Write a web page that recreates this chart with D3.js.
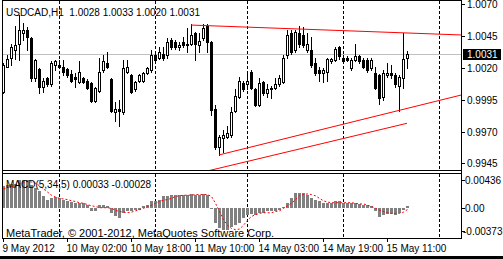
<!DOCTYPE html>
<html>
<head>
<meta charset="utf-8">
<script src="https://cdn.jsdelivr.net/npm/d3@7"></script>
<style>
    html, body {margin: 0; padding: 0; background: #fff;}
    svg {display: block; font-family: "Liberation Sans", Arial, sans-serif;}
</style>
</head>
<body>
<div id="chart"></div>
<script>
// USDCAD H1 bars, 9 May 10:00 .. 15 May 16:00
const opens = [1.0001,1.0021,1.0028,1.0034,1.0039,1.0047,1.0050,1.0043,1.0012,1.0019,
    1.0005,1.0012,1.0007,1.0022,1.0022,1.0021,1.0019,1.0015,1.0013,1.0009,
    1.0012,1.0010,1.0008,0.9994,1.0002,1.0018,1.0024,1.0011,0.9985,0.9988,
    0.9985,1.0017,1.0014,1.0003,1.0010,1.0010,1.0016,1.0018,1.0030,1.0028,
    1.0031,1.0030,1.0042,1.0040,1.0036,1.0040,1.0039,1.0039,1.0047,1.0038,
    1.0043,1.0053,1.0040,0.9988,0.9958,0.9965,0.9966,0.9967,0.9986,0.9997,
    1.0008,1.0007,1.0017,1.0003,0.9991,1.0009,1.0000,1.0004,1.0004,1.0007,
    1.0009,1.0030,1.0047,1.0034,1.0047,1.0046,1.0034,1.0034,1.0024,1.0018,
    1.0016,1.0017,1.0025,1.0026,1.0036,1.0028,1.0028,1.0020,1.0026,1.0029,
    1.0026,1.0026,1.0020,1.0016,1.0014,0.9997,1.0014,1.0016,1.0014,1.0006,
    1.0012,1.0028];
const highs = [1.0024,1.0030,1.0039,1.0053,1.0061,1.0055,1.0052,1.0044,1.0027,1.0020,
    1.0012,1.0013,1.0025,1.0026,1.0026,1.0026,1.0020,1.0018,1.0016,1.0025,
    1.0013,1.0011,1.0009,1.0005,1.0028,1.0030,1.0032,1.0012,0.9993,0.9995,
    1.0026,1.0026,1.0015,1.0010,1.0015,1.0017,1.0021,1.0034,1.0031,1.0036,
    1.0036,1.0043,1.0043,1.0042,1.0040,1.0044,1.0051,1.0054,1.0048,1.0047,
    1.0054,1.0054,1.0041,0.9991,0.9967,0.9971,0.9974,0.9989,1.0003,1.0013,
    1.0010,1.0017,1.0018,1.0004,1.0012,1.0010,1.0007,1.0006,1.0012,1.0014,
    1.0030,1.0050,1.0050,1.0050,1.0053,1.0052,1.0047,1.0044,1.0028,1.0021,
    1.0020,1.0028,1.0028,1.0036,1.0037,1.0030,1.0029,1.0028,1.0039,1.0030,
    1.0028,1.0028,1.0028,1.0021,1.0015,1.0018,1.0024,1.0022,1.0016,1.0014,
    1.0047,1.0033];
const lows = [1.0000,1.0021,1.0022,1.0027,1.0026,1.0042,1.0034,1.0010,1.0010,1.0000,
    1.0001,1.0006,1.0006,1.0018,1.0020,1.0014,1.0013,1.0009,1.0005,1.0008,
    1.0008,1.0003,0.9993,0.9993,1.0001,1.0017,1.0020,0.9985,0.9978,0.9974,
    0.9984,1.0016,1.0000,1.0002,1.0009,1.0009,1.0015,1.0017,1.0025,1.0027,
    1.0026,1.0028,1.0035,1.0035,1.0034,1.0036,1.0032,1.0038,1.0026,1.0032,
    1.0042,1.0032,0.9983,0.9956,0.9952,0.9954,0.9965,0.9966,0.9985,0.9996,
    1.0002,1.0003,1.0003,0.9990,0.9990,0.9999,0.9997,0.9996,1.0003,1.0006,
    1.0008,1.0028,1.0031,1.0032,1.0036,1.0036,1.0032,1.0021,1.0014,1.0010,
    1.0009,1.0010,1.0024,1.0025,1.0027,1.0024,1.0025,1.0018,1.0025,1.0024,
    1.0020,1.0017,1.0018,1.0003,0.9992,0.9995,1.0013,1.0012,1.0005,0.9986,
    1.0004,1.0020];
const closes = [1.0022,1.0027,1.0036,1.0038,1.0050,1.0050,1.0044,1.0012,1.0026,1.0005,
    1.0010,1.0007,1.0024,1.0025,1.0021,1.0017,1.0014,1.0010,1.0011,1.0017,
    1.0009,1.0004,0.9994,1.0004,1.0017,1.0025,1.0021,0.9986,0.9988,0.9986,
    1.0020,1.0021,1.0001,1.0009,1.0014,1.0016,1.0020,1.0030,1.0026,1.0032,
    1.0028,1.0040,1.0036,1.0036,1.0038,1.0038,1.0038,1.0046,1.0039,1.0041,
    1.0051,1.0040,0.9987,0.9958,0.9966,0.9967,0.9969,0.9985,0.9998,1.0010,
    1.0003,1.0010,1.0004,0.9991,1.0008,1.0000,1.0003,1.0003,1.0007,1.0012,
    1.0028,1.0046,1.0032,1.0048,1.0039,1.0038,1.0039,1.0022,1.0016,1.0016,
    1.0018,1.0027,1.0027,1.0035,1.0029,1.0025,1.0026,1.0026,1.0029,1.0025,
    1.0021,1.0018,1.0026,1.0004,0.9996,1.0016,1.0016,1.0014,1.0007,1.0013,
    1.0027,1.0031];

// MACD(5,34,5): main histogram and signal line
const macdMain = [0.0034,0.0036,0.0038,0.0038,0.0044,0.0044,0.0044,0.0036,0.0031,0.0026,
    0.0018,0.0012,0.0015,0.0017,0.0015,0.0013,0.0011,0.0009,0.0007,0.0007,
    0.0007,0.0004,-0.0006,-0.0006,0.0004,0.0004,0.0002,-0.0009,-0.0013,-0.0016,
    -0.0008,-0.0005,-0.0006,-0.0004,-0.0003,0.0002,0.0004,0.0010,0.0011,0.0013,
    0.0018,0.0019,0.0020,0.0020,0.0020,0.0020,0.0020,0.0022,0.0020,0.0020,
    0.0022,0.0020,-0.0001,-0.0025,-0.0033,-0.0036,-0.0036,-0.0031,-0.0028,-0.0025,
    -0.0017,-0.0012,-0.0010,-0.0011,-0.0009,-0.0008,-0.0006,-0.0006,-0.0005,-0.0004,
    0.0001,0.0007,0.0015,0.0023,0.0023,0.0023,0.0020,0.0015,0.0012,0.0010,
    0.0007,0.0008,0.0008,0.0010,0.0010,0.0008,0.0007,0.0007,0.0007,0.0006,
    0.0005,0.0004,0.0003,-0.0006,-0.0014,-0.0012,-0.0010,-0.0010,-0.0011,-0.0008,
    -0.0003,0.00033];
const macdSignal = [0.0030,0.0032,0.0034,0.0036,0.0038,0.0040,0.0042,0.0041,0.0039,0.0035,
    0.0030,0.0025,0.0020,0.0017,0.0015,0.0014,0.0013,0.0011,0.0010,0.0008,
    0.0007,0.0005,0.0003,0.0002,0.0000,0.0000,0.0000,-0.0001,-0.0004,-0.0006,
    -0.0007,-0.0008,-0.0007,-0.0005,-0.0003,-0.0001,0.0002,0.0004,0.0007,0.0010,
    0.0012,0.0013,0.0015,0.0018,0.0019,0.0020,0.0020,0.0020,0.0021,0.0021,
    0.0021,0.0021,0.0018,0.0007,-0.0006,-0.0019,-0.0028,-0.0033,-0.0035,-0.0034,
    -0.0028,-0.0020,-0.0014,-0.0011,-0.0009,-0.0008,-0.0008,-0.0008,-0.0006,-0.0005,
    -0.0001,0.0003,0.0007,0.0013,0.0019,0.0021,0.0022,0.0021,0.0019,0.0015,
    0.0011,0.0009,0.0008,0.0008,0.0008,0.0008,0.0008,0.0008,0.0007,0.0006,
    0.0006,0.0004,0.0002,-0.0001,-0.0004,-0.0006,-0.0008,-0.0009,-0.0009,-0.0009,
    -0.0007,-0.00028];

const priceTicks = [1.0070, 1.0045, 1.0020, 0.9995, 0.9970, 0.9945];
const macdTicks = [0.00436, 0.00, -0.00373];
const timeTickBars = [0, 16, 32, 48, 64, 80, 96];
const timeTickLabels = ["9 May 2012", "10 May 02:00", "10 May 18:00", "11 May 10:00",
    "14 May 03:00", "14 May 19:00", "15 May 11:00"];
const dayStartBars = [14, 38, 61, 85, 109];

// trend lines: [bar, price] pairs
const resistLine = [[47, 1.00535], [100, 1.00474]];
const supportLine = [[54, 0.99517], [99, 0.99866]];
const channelLine = [[50, 0.99383], [101, 0.99765]];

const lastPrice = closes[closes.length - 1];

const W = 503, H = 259;
const left = 2, right = 461;
const mainTop = 1, mainBottom = 170;
const subTop = 173, subBottom = 238;

const x = d3.scaleLinear().domain([0, 109]).range([3, 439]);
const y = d3.scaleLinear().domain([0.99391, 1.007235]).range([171, 1]);
const my = d3.scaleLinear().domain([-0.00483, 0.00554]).range([238, 173]);

const svg = d3.create("svg")
    .attr("width", W).attr("height", H)
    .attr("viewBox", [0, 0, W, H])
    .attr("shape-rendering", "crispEdges");

svg.append("rect").attr("width", W).attr("height", H).attr("fill", "#fff");

const defs = svg.append("defs");
defs.append("clipPath").attr("id", "clipMain")
    .append("rect").attr("x", left + 1).attr("y", mainTop).attr("width", right - left - 1).attr("height", mainBottom - mainTop);
defs.append("clipPath").attr("id", "clipSub")
    .append("rect").attr("x", left + 1).attr("y", subTop + 1).attr("width", right - left - 1).attr("height", subBottom - subTop - 1);

// day separators
for (const b of dayStartBars) {
    const px = Math.round(x(b)) + 0.5;
    svg.append("line").attr("x1", px).attr("x2", px).attr("y1", mainTop).attr("y2", mainBottom)
        .attr("stroke", "#000").attr("stroke-dasharray", "3,2");
    svg.append("line").attr("x1", px).attr("x2", px).attr("y1", subTop + 1).attr("y2", subBottom)
        .attr("stroke", "#000").attr("stroke-dasharray", "3,2");
}

const gMain = svg.append("g").attr("clip-path", "url(#clipMain)");

// bid line
const bidY = Math.round(y(lastPrice)) + 0.5;
gMain.append("line").attr("x1", left).attr("x2", right).attr("y1", bidY).attr("y2", bidY)
    .attr("stroke", "#c0c0c0");

// candles
opens.forEach((o, i) => {
    const c = closes[i];
    const cx = Math.round(x(i));
    const yh = Math.round(y(highs[i])), yl = Math.round(y(lows[i]));
    gMain.append("rect").attr("x", cx).attr("y", yh).attr("width", 1).attr("height", yl - yh + 1).attr("fill", "#000");
    const top = Math.round(y(Math.max(o, c))), bot = Math.round(y(Math.min(o, c)));
    gMain.append("rect").attr("x", cx - 1).attr("y", top).attr("width", 3).attr("height", bot - top + 1).attr("fill", "#000");
    if (c > o && bot - top >= 2) {
        gMain.append("rect").attr("x", cx).attr("y", top + 1).attr("width", 1).attr("height", bot - top - 1).attr("fill", "#fff");
    }
});

// trend lines
function trend(pts, x2px) {
    const [p0, p1] = pts;
    const x0 = x(p0[0]), y0 = y(p0[1]), x1 = x(p1[0]), y1 = y(p1[1]);
    const k = (y1 - y0) / (x1 - x0);
    const xe = x2px ?? x1;
    gMain.append("line")
        .attr("x1", x0).attr("y1", y0).attr("x2", xe).attr("y2", y0 + k * (xe - x0))
        .attr("stroke", "#ff0000").attr("stroke-width", 1)
        .attr("shape-rendering", "auto");
}
trend(resistLine, right);
trend(supportLine, right);
trend(channelLine);

// MACD window
const gSub = svg.append("g").attr("clip-path", "url(#clipSub)");
const zeroY = my(0);
macdMain.forEach((v, i) => {
    const cx = Math.round(x(i));
    const vy = Math.round(my(v));
    const z = Math.round(zeroY);
    gSub.append("rect").attr("x", cx - 1).attr("width", 3)
        .attr("y", Math.min(vy, z)).attr("height", Math.max(1, Math.abs(vy - z)))
        .attr("fill", "#808080");
});
gSub.append("path")
    .datum(macdSignal)
    .attr("fill", "none").attr("stroke", "#ff0000").attr("stroke-dasharray", "2,2")
    .attr("shape-rendering", "auto")
    .attr("d", d3.line().x((d, i) => Math.round(x(i)) + 0.5).y(d => my(d)));

// frames
const frame = svg.append("g").attr("stroke", "#000").attr("fill", "none");
frame.append("line").attr("x1", left + 0.5).attr("x2", left + 0.5).attr("y1", 0).attr("y2", subBottom + 1);
frame.append("line").attr("x1", right + 0.5).attr("x2", right + 0.5).attr("y1", 0).attr("y2", subBottom + 1);
frame.append("line").attr("x1", left).attr("x2", right + 1).attr("y1", 0.5).attr("y2", 0.5);
frame.append("line").attr("x1", left).attr("x2", right + 1).attr("y1", mainBottom + 0.5).attr("y2", mainBottom + 0.5);
frame.append("line").attr("x1", left).attr("x2", right + 1).attr("y1", subTop + 0.5).attr("y2", subTop + 0.5);
frame.append("line").attr("x1", left).attr("x2", right + 1).attr("y1", subBottom + 0.5).attr("y2", subBottom + 0.5);

// price axis
const axisG = svg.append("g").attr("font-size", 10).attr("fill", "#000");
priceTicks.forEach(p => {
    const ty = Math.round(y(p)) + 0.5;
    axisG.append("line").attr("x1", right).attr("x2", right + 4).attr("y1", ty).attr("y2", ty).attr("stroke", "#000");
    axisG.append("text").attr("x", 467).attr("y", ty + 3.5).text(p.toFixed(4));
});
macdTicks.forEach(v => {
    const ty = Math.round(my(v)) + 0.5;
    axisG.append("line").attr("x1", right).attr("x2", right + 4).attr("y1", ty).attr("y2", ty).attr("stroke", "#000");
    axisG.append("text").attr("x", v < 0 ? 463 : 465).attr("y", ty + 3.5).text(v === 0 ? "0.00" : v.toFixed(5));
});

// current price box
axisG.append("rect").attr("x", 463).attr("y", bidY - 5.5).attr("width", 38).attr("height", 11).attr("fill", "#000");
axisG.append("text").attr("x", 467).attr("y", bidY + 3.5).attr("fill", "#fff").text(lastPrice.toFixed(4));

// time axis
timeTickBars.forEach((b, k) => {
    const tx = Math.round(x(b)) + 0.5;
    axisG.append("line").attr("x1", tx).attr("x2", tx).attr("y1", subBottom).attr("y2", subBottom + 4).attr("stroke", "#000");
    axisG.append("text").attr("x", tx - 1).attr("y", 251.5).text(timeTickLabels[k]);
});

// labels
const n = opens.length - 1;
svg.append("text").attr("x", 6).attr("y", 16).attr("font-size", 10).attr("xml:space", "preserve")
    .text(`USDCAD,H1  ${opens[n].toFixed(4)} ${highs[n].toFixed(4)} ${lows[n].toFixed(4)} ${closes[n].toFixed(4)}`);
svg.append("text").attr("x", 6).attr("y", 188).attr("font-size", 10)
    .text(`MACD(5,34,5) ${macdMain[n].toFixed(5)} ${macdSignal[n].toFixed(5)}`);
svg.append("text").attr("x", 6).attr("y", 236.5).attr("font-size", 11)
    .text("MetaTrader, \u00a9 2001-2012, MetaQuotes Software Corp.");

// bottom strip
svg.append("rect").attr("x", 0).attr("y", 256).attr("width", W).attr("height", 3).attr("fill", "#000");

document.getElementById("chart").appendChild(svg.node());
</script>
</body>
</html>
